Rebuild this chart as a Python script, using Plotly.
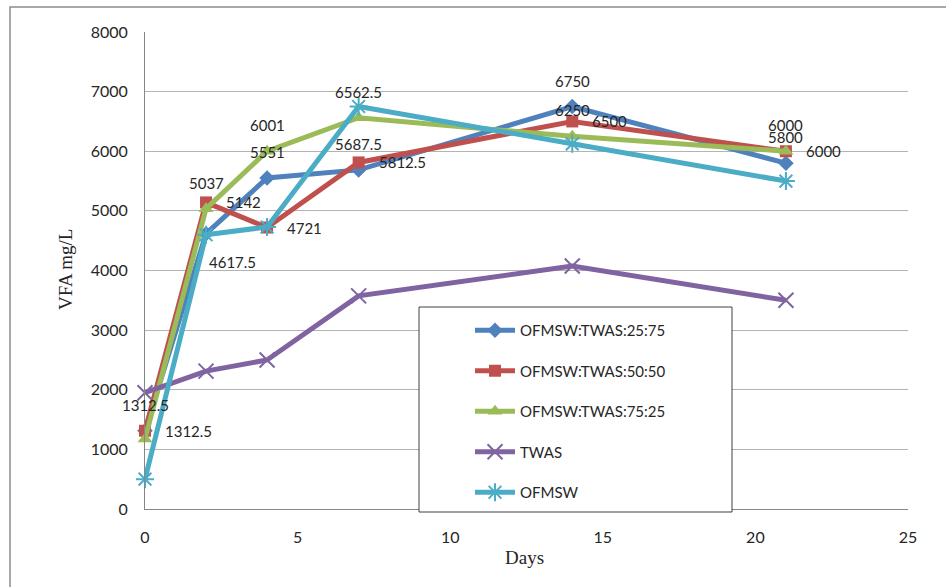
import plotly.graph_objects as go

# Sampling days
days = [0, 2, 4, 7, 14, 21]

# VFA concentration (mg/L) per feed mix
vfa_25_75 = [1312.5, 4617.5, 5551, 5687.5, 6750, 5800]
vfa_50_50 = [1312.5, 5142, 4721, 5812.5, 6500, 6000]
vfa_75_25 = [1175, 5037, 6001, 6562.5, 6250, 6000]
vfa_twas = [1950, 2312.5, 2500, 3575, 4075, 3500]
vfa_ofmsw = [500, 4600, 4730, 6750, 6125, 5500]

series_names = ["OFMSW:TWAS:25:75", "OFMSW:TWAS:50:50", "OFMSW:TWAS:75:25", "TWAS", "OFMSW"]
series_values = [vfa_25_75, vfa_50_50, vfa_75_25, vfa_twas, vfa_ofmsw]

# Axis ticks
x_ticks = [0, 5, 10, 15, 20, 25]
y_ticks = [0, 1000, 2000, 3000, 4000, 5000, 6000, 7000, 8000]

# Styling
colors = ["#4F81BD", "#C0504D", "#9BBB59", "#8064A2", "#4BACC6"]
symbols = ["diamond", "square", "triangle-up", "x-thin", "asterisk"]
msizes = [12, 12, 13, 15, 15]

# Plot area geometry (pixels)
W, H = 946, 587
L, R, T, B = 145, 38, 32, 78
PW, PH = W - L - R, H - T - B


def px_x(p):
    return (p - L) / PW


def px_y(p):
    return (H - B - p) / PH


# Data-label placement: which points carry a value label and how it is offset
label_style = {
    0: {"idx": [0, 1, 2, 3, 4, 5], "mode": ["up", "downright", "up", "up", "up", "up"]},
    1: {"idx": [0, 1, 2, 3, 4, 5], "mode": ["right"] * 6},
    2: {"idx": [1, 2, 3, 4, 5], "mode": ["up"] * 5},
}

fig = go.Figure()

for i, (name, vals) in enumerate(zip(series_names, series_values)):
    thin = symbols[i] in ("x-thin", "asterisk")
    marker = dict(symbol=symbols[i], size=msizes[i], color=colors[i])
    if thin:
        marker["line"] = dict(color=colors[i], width=2)
    else:
        marker["line"] = dict(width=0)
    fig.add_trace(go.Scatter(
        x=days, y=vals, name=name, mode="lines+markers",
        line=dict(color=colors[i], width=5),
        marker=marker, cliponaxis=False, legendgroup=f"g{i}",
    ))

annotations = []
for si, st in label_style.items():
    vals = series_values[si]
    for k, m in zip(st["idx"], st["mode"]):
        a = dict(x=days[k], y=vals[k], xref="x", yref="y", text=f"{vals[k]:g}",
                 showarrow=False, font=dict(family="Lato", size=15, color="#262626"))
        if m == "up":
            a.update(xanchor="center", yanchor="middle", yshift=26)
        elif m == "right":
            a.update(xanchor="left", yanchor="middle", xshift=18)
        elif m == "downright":
            a.update(xanchor="center", yanchor="middle", xshift=26, yshift=-28)
        annotations.append(a)

# Axis titles
annotations.append(dict(x=px_x(524), y=px_y(557), xref="paper", yref="paper", text="Days",
                        showarrow=False, xanchor="center", yanchor="middle",
                        font=dict(family="Liberation Serif", size=19, color="#262626")))
annotations.append(dict(x=px_x(65), y=px_y(270), xref="paper", yref="paper", text="VFA mg/L",
                        showarrow=False, xanchor="center", yanchor="middle", textangle=-90,
                        font=dict(family="Liberation Serif", size=19, color="#262626")))

shapes = [
    # outer chart frame
    dict(type="rect", xref="paper", yref="paper",
         x0=px_x(10), x1=px_x(955), y0=px_y(600), y1=px_y(7),
         line=dict(color="#8c8c8c", width=1.5), fillcolor="rgba(0,0,0,0)", layer="below"),
    # legend frame
    dict(type="rect", xref="paper", yref="paper",
         x0=px_x(419), x1=px_x(732), y0=px_y(512), y1=px_y(307),
         line=dict(color="#404040", width=1), fillcolor="white", layer="above"),
]

fig.update_layout(
    width=W, height=H,
    margin=dict(l=L, r=R, t=T, b=B, pad=0),
    paper_bgcolor="white", plot_bgcolor="white",
    font=dict(family="Lato", size=16, color="#262626"),
    showlegend=True,
    legend=dict(x=px_x(470), y=px_y(314), xanchor="left", yanchor="top",
                bgcolor="rgba(0,0,0,0)", borderwidth=0,
                font=dict(family="Lato", size=15, color="#262626"),
                itemwidth=40, tracegroupgap=18, traceorder="grouped"),
    xaxis=dict(range=[0, 25], tickvals=x_ticks, showgrid=False, zeroline=False,
               showline=True, linecolor="#868686", linewidth=1, ticks="",
               ticklabelstandoff=14, tickfont=dict(family="Lato", size=16)),
    yaxis=dict(range=[0, 8000], tickvals=y_ticks, showgrid=True, gridcolor="#b3b3b3",
               gridwidth=1, zeroline=False, showline=True, linecolor="#868686",
               linewidth=1, ticks="", ticklabelstandoff=13,
               tickfont=dict(family="Lato", size=16)),
    annotations=annotations,
    shapes=shapes,
)

fig.write_html("out.html")
